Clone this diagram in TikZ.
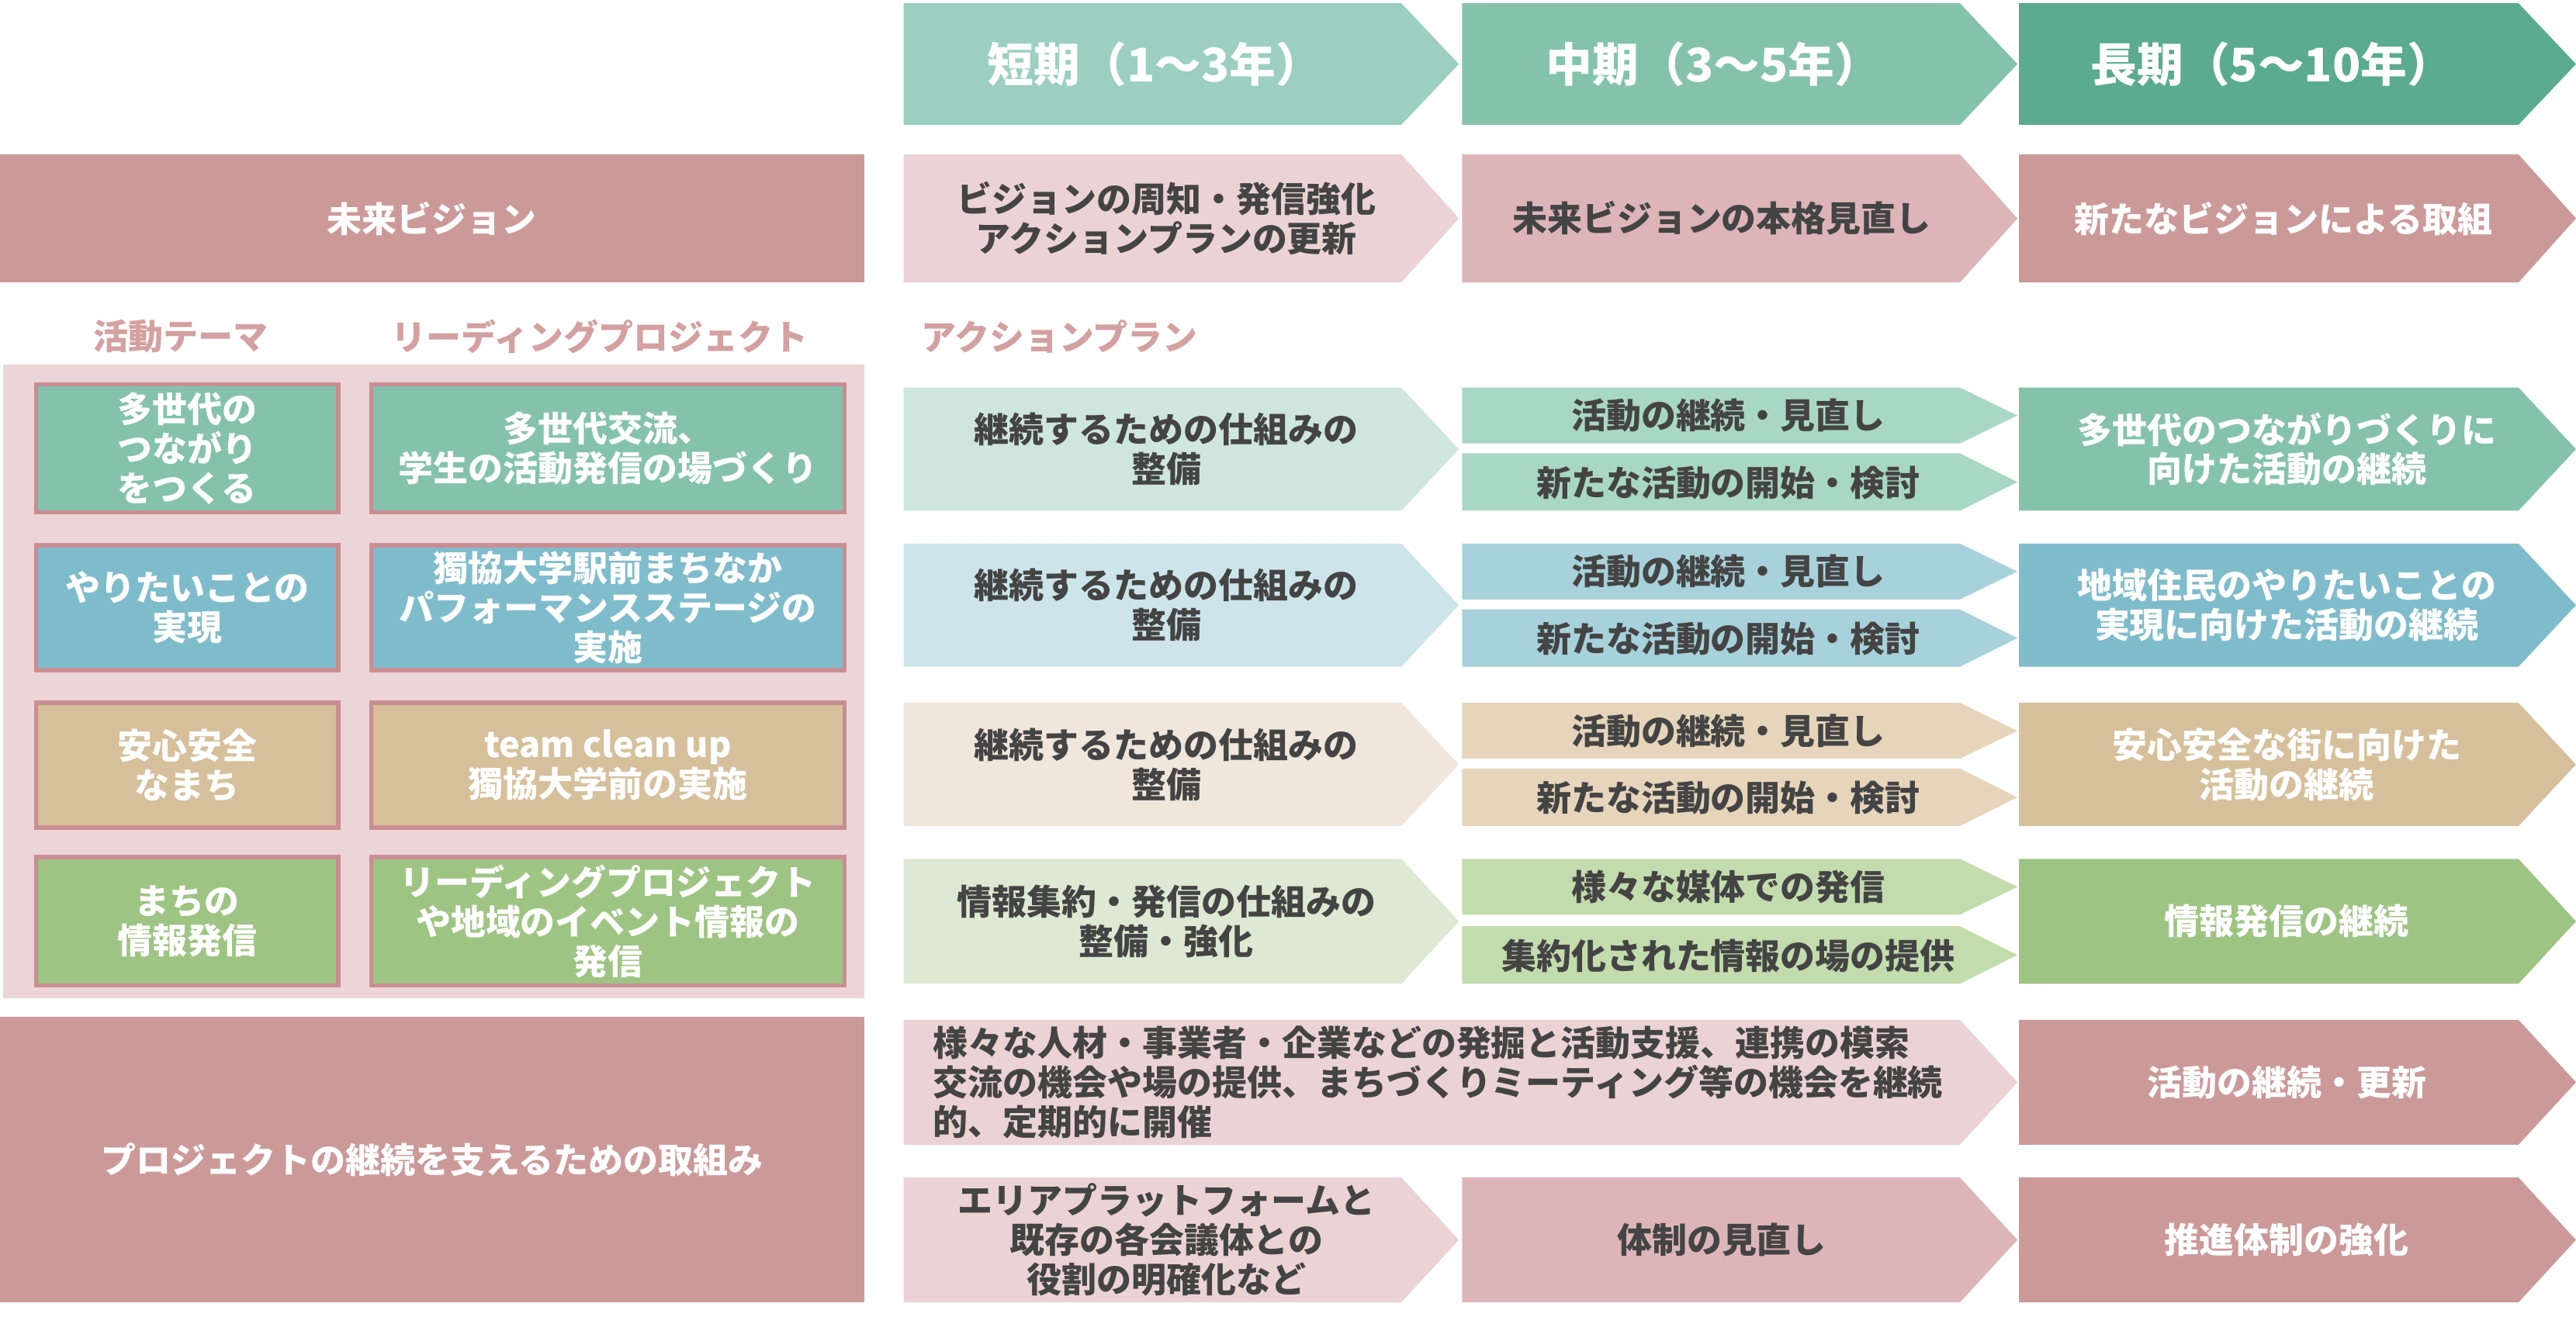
\documentclass[tikz,border=0pt]{standalone}
\usepackage{fontspec}
\setmainfont{Noto Sans CJK JP}
\usetikzlibrary{positioning}
\definecolor{hdA}{HTML}{9CCFBF}\definecolor{hdB}{HTML}{84C2AC}\definecolor{hdC}{HTML}{5AAB8F}
\definecolor{rsA}{HTML}{EBD3D5}\definecolor{rsB}{HTML}{DDB5B9}\definecolor{rsC}{HTML}{CC9999}
\definecolor{grA}{HTML}{CFE6DF}\definecolor{grB}{HTML}{A9D7C6}\definecolor{grC}{HTML}{84C2AC}
\definecolor{blA}{HTML}{CDE5EA}\definecolor{blB}{HTML}{A8D2DB}\definecolor{blC}{HTML}{7FBCCB}
\definecolor{tnA}{HTML}{F0E6DC}\definecolor{tnB}{HTML}{E6D5BB}\definecolor{tnC}{HTML}{D6C09C}
\definecolor{lgA}{HTML}{DDE9D2}\definecolor{lgB}{HTML}{C3DCAE}\definecolor{lgC}{HTML}{9EC483}
\definecolor{panel}{HTML}{ECD5D7}\definecolor{edge}{HTML}{C98E92}
\definecolor{txt}{HTML}{444444}\definecolor{cap}{HTML}{D4A0A0}
% arrow: x1,y1,x2,y2,colour
\newcommand{\arrbox}[5]{\fill[#5] (#1,#2) -- (#3-35,#2) -- (#3,{(#2+#4)/2}) -- (#3-35,#4) -- (#1,#4) -- cycle;}
\begin{document}
\begin{tikzpicture}[x=0.021173cm,y=-0.021173cm,
	lbl/.style={font=\bfseries\fontsize{12.8}{14.5}\selectfont, align=center, text=txt},
	wlbl/.style={lbl, text=white},
	head/.style={font=\bfseries\fontsize{17}{20}\selectfont, text=white},
	theme/.style={draw=edge, line width=1.6pt}]
	\useasboundingbox (0,0) rectangle (1568,806);
	% Zeitachse
	\arrbox{550}{2}{888}{76}{hdA}
	\arrbox{890}{2}{1228}{76}{hdB}
	\arrbox{1229}{2}{1568}{76}{hdC}
	\node[head] (short) at (703,39) {短期（1〜3年）};
	\node[head] (mid) at (1043,39) {中期（3〜5年）};
	\node[head] (long) at (1383,39) {長期（5〜10年）};
	% Vision
	\fill[rsC] (0,94) rectangle (526,172);
	\node[wlbl] (vision) at (263,133) {未来ビジョン};
	\arrbox{550}{94}{888}{172}{rsA}
	\arrbox{890}{94}{1228}{172}{rsB}
	\arrbox{1229}{94}{1568}{172}{rsC}
	\node[lbl] (visA) at (710,133) {ビジョンの周知・発信強化\\アクションプランの更新};
	\node[lbl] (visB) at (1048,133) {未来ビジョンの本格見直し};
	\node[wlbl] (visC) at (1390,133) {新たなビジョンによる取組};
	% Ueberschriften
	\node[lbl, text=cap] (capA) at (110,205) {活動テーマ};
	\node[lbl, text=cap] (capB) at (365,205) {リーディングプロジェクト};
	\node[lbl, text=cap] (capC) at (645,205) {アクションプラン};
	\fill[panel] (2,222) rectangle (526,608);
	% Themen
	\foreach \ya/\yb/\col/\tA/\tB/\nm in {
		234/312/grC/{多世代の\\つながり\\をつくる}/{多世代交流、\\学生の活動発信の場づくり}/one,
		332/408/blC/{やりたいことの\\実現}/{獨協大学駅前まちなか\\パフォーマンスステージの\\実施}/two,
		428/504/tnC/{安心安全\\なまち}/{team clean up\\獨協大学前の実施}/three,
		522/600/lgC/{まちの\\情報発信}/{リーディングプロジェクト\\や地域のイベント情報の\\発信}/four}{
		\filldraw[theme, fill=\col] (22,\ya) rectangle (206,\yb);
		\filldraw[theme, fill=\col] (226,\ya) rectangle (514,\yb);
		\node[wlbl] (thm\nm) at (114,{(\ya+\yb)/2}) {\tA};
		\node[wlbl] (prj\nm) at (370,{(\ya+\yb)/2}) {\tB};
	}
	% Aktionsplan
	\foreach \ya/\yb/\cA/\cB/\cC/\tA/\tB/\tC/\tD/\nm in {
		236/311/grA/grB/grC/{継続するための仕組みの\\整備}/{活動の継続・見直し}/{新たな活動の開始・検討}/{多世代のつながりづくりに\\向けた活動の継続}/one,
		331/406/blA/blB/blC/{継続するための仕組みの\\整備}/{活動の継続・見直し}/{新たな活動の開始・検討}/{地域住民のやりたいことの\\実現に向けた活動の継続}/two,
		428/503/tnA/tnB/tnC/{継続するための仕組みの\\整備}/{活動の継続・見直し}/{新たな活動の開始・検討}/{安心安全な街に向けた\\活動の継続}/three,
		523/599/lgA/lgB/lgC/{情報集約・発信の仕組みの\\整備・強化}/{様々な媒体での発信}/{集約化された情報の場の提供}/{情報発信の継続}/four}{
		\arrbox{550}{\ya}{888}{\yb}{\cA}
		\arrbox{890}{\ya}{1228}{\ya+34}{\cB}
		\arrbox{890}{\yb-35}{1228}{\yb}{\cB}
		\arrbox{1229}{\ya}{1568}{\yb}{\cC}
		\node[lbl] (actA\nm) at (710,{(\ya+\yb)/2}) {\tA};
		\node[lbl] (actB\nm) at (1052,\ya+17) {\tB};
		\node[lbl] (actC\nm) at (1052,\yb-17) {\tC};
		\node[wlbl] (actD\nm) at (1392,{(\ya+\yb)/2}) {\tD};
	}
	% Unterstuetzung
	\fill[rsC] (0,619) rectangle (526,793);
	\node[wlbl] (support) at (263,706) {プロジェクトの継続を支えるための取組み};
	\arrbox{550}{621}{1228}{697}{rsA}
	\arrbox{1229}{621}{1568}{697}{rsC}
	\node[lbl, align=left, anchor=west] (supA) at (562,659) {様々な人材・事業者・企業などの発掘と活動支援、連携の模索\\交流の機会や場の提供、まちづくりミーティング等の機会を継続\\的、定期的に開催};
	\node[wlbl] (supB) at (1392,659) {活動の継続・更新};
	\arrbox{550}{717}{888}{793}{rsA}
	\arrbox{890}{717}{1228}{793}{rsB}
	\arrbox{1229}{717}{1568}{793}{rsC}
	\node[lbl] (orgA) at (710,755) {エリアプラットフォームと\\既存の各会議体との\\役割の明確化など};
	\node[lbl] (orgB) at (1048,755) {体制の見直し};
	\node[wlbl] (orgC) at (1392,755) {推進体制の強化};
\end{tikzpicture}
\end{document}
